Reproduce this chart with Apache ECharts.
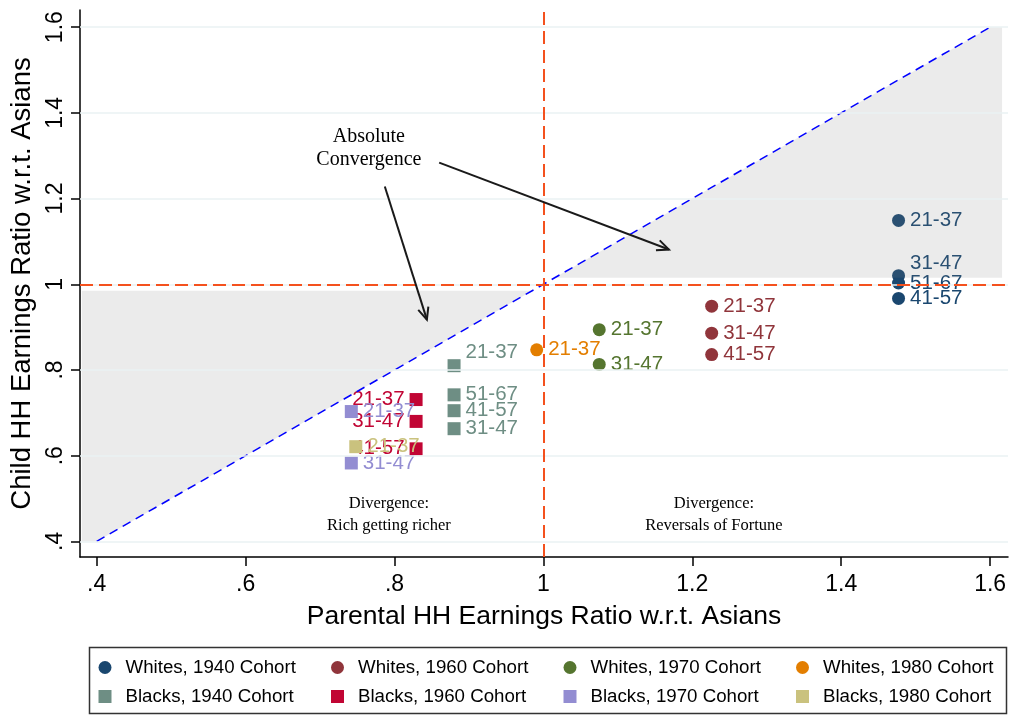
<!DOCTYPE html>
<html><head><meta charset="utf-8">
<script src="https://cdn.jsdelivr.net/npm/echarts@6/dist/echarts.min.js"></script>
<style>html,body{margin:0;padding:0;background:#fff}#chart{width:1015px;height:715px}</style>
</head><body><div id="chart"></div>
<script>
// ---- tick values ----
const xTicks = [0.4, 0.6, 0.8, 1.0, 1.2, 1.4, 1.6];
const yTicks = [0.4, 0.6, 0.8, 1.0, 1.2, 1.4, 1.6];

// ---- series names ----
const seriesNames = ['Whites, 1940 Cohort', 'Whites, 1960 Cohort', 'Whites, 1970 Cohort', 'Whites, 1980 Cohort',
                     'Blacks, 1940 Cohort', 'Blacks, 1960 Cohort', 'Blacks, 1970 Cohort', 'Blacks, 1980 Cohort'];

// ---- data: parental ratio (x), child ratio (y), child birth cohort label ----
const w1940X = [1.477, 1.477, 1.477, 1.477];
const w1940Y = [1.149, 1.020, 1.003, 0.967];
const w1940Lab = ['21-37', '31-47', '51-67', '41-57'];

const w1960X = [1.226, 1.226, 1.226];
const w1960Y = [0.949, 0.886, 0.836];
const w1960Lab = ['21-37', '31-47', '41-57'];

const w1970X = [1.075, 1.075];
const w1970Y = [0.894, 0.813];
const w1970Lab = ['21-37', '31-47'];

const w1980X = [0.991];
const w1980Y = [0.847];
const w1980Lab = ['21-37'];

const b1940X = [0.880, 0.880, 0.880, 0.880];
const b1940Y = [0.810, 0.742, 0.705, 0.663];
const b1940Lab = ['21-37', '51-67', '41-57', '31-47'];

const b1960X = [0.829, 0.829, 0.829];
const b1960Y = [0.731, 0.680, 0.616];
const b1960Lab = ['21-37', '31-47', '41-57'];

const b1970X = [0.742, 0.742];
const b1970Y = [0.703, 0.583];
const b1970Lab = ['21-37', '31-47'];

const b1980X = [0.748];
const b1980Y = [0.621];
const b1980Lab = ['21-37'];

// ---- reference regions / annotations (data units) ----
const diagonal = [[0.4, 0.4], [1.6, 1.6]];
const shadeUR = [[1.015, 1.015], [1.6, 1.6], [1.616, 1.6], [1.616, 1.015]];
const shadeLL = [[0.380, 0.985], [0.985, 0.985], [0.4, 0.4], [0.380, 0.4]];
const arrowFrom = [[0.787, 1.228], [0.860, 1.284]];
const arrowTo = [[0.8435, 0.9175], [1.1686, 1.081]];
const noteText = ['Absolute\nConvergence', 'Divergence:\nRich getting richer', 'Divergence:\nReversals of Fortune'];
const notePos = [[0.7656, 1.318], [0.7925, 0.462], [1.229, 0.462]];

// ---- build ----
const groups = [
  [w1940X, w1940Y, w1940Lab], [w1960X, w1960Y, w1960Lab], [w1970X, w1970Y, w1970Lab], [w1980X, w1980Y, w1980Lab],
  [b1940X, b1940Y, b1940Lab], [b1960X, b1960Y, b1960Lab], [b1970X, b1970Y, b1970Lab], [b1980X, b1980Y, b1980Lab]
];
const colors = ['#1a476f', '#90353b', '#55752f', '#e37e00', '#6e8e84', '#c10534', '#938dd2', '#cac27e'];
const SANS = '"Liberation Sans", Arial, Helvetica, sans-serif';
const SERIF = '"Liberation Serif", "Times New Roman", serif';

const fmt = v => (+(+v).toFixed(1)).toString().replace(/^0\./, '.');

const scatterSeries = groups.map((g, i) => {
  const isBlack = i >= 4;
  const data = g[0].map((x, k) => {
    const item = { value: [x, g[1][k], g[2][k]] };
    if (i === 0 && g[2][k] === '31-47') item.label = { offset: [0, -12] };
    if (i === 4 && g[2][k] === '21-37') item.label = { offset: [0, -13] };
    return item;
  });
  return {
    name: seriesNames[i],
    type: 'scatter',
    symbol: isBlack ? 'rect' : 'circle',
    symbolSize: 13,
    z: 2 + i * 0.1,
    itemStyle: { color: colors[i], opacity: 1 },
    label: {
      show: true,
      position: i === 5 ? 'left' : 'right',
      distance: 5,
      formatter: p => p.value[2],
      color: colors[i],
      fontSize: 20.5,
      fontFamily: SANS
    },
    emphasis: { disabled: true },
    data
  };
});

const chart = echarts.init(document.getElementById('chart'));
chart.setOption({
  animation: false,
  backgroundColor: '#ffffff',
  grid: { left: 80, right: 7, top: 10, bottom: 158 },
  xAxis: {
    type: 'value', min: 0.3776, max: 1.624,
    axisLine: { show: true, lineStyle: { color: '#000', width: 1.5 } },
    axisTick: { show: true, customValues: xTicks, length: 9, lineStyle: { color: '#000', width: 1.5 } },
    axisLabel: { customValues: xTicks, formatter: fmt, fontSize: 23, color: '#000', fontFamily: SANS, margin: 16 },
    splitLine: { show: false },
    name: 'Parental HH Earnings Ratio w.r.t. Asians',
    nameLocation: 'middle', nameGap: 46,
    nameTextStyle: { fontSize: 26.5, color: '#000', fontFamily: SANS }
  },
  yAxis: {
    type: 'value', min: 0.3636, max: 1.64,
    axisLine: { show: true, lineStyle: { color: '#000', width: 1.5 } },
    axisTick: { show: true, customValues: yTicks, length: 9, lineStyle: { color: '#000', width: 1.5 } },
    axisLabel: { customValues: yTicks, formatter: fmt, rotate: 90, fontSize: 23, color: '#000', fontFamily: SANS, margin: 13 },
    splitLine: { show: false },
    name: 'Child HH Earnings Ratio w.r.t. Asians',
    nameLocation: 'middle', nameGap: 41,
    nameTextStyle: { fontSize: 27.5, color: '#000', fontFamily: SANS }
  },
  legend: {
    data: seriesNames,
    left: 98.5, top: 658, width: 925, padding: 0,
    itemWidth: 13, itemHeight: 13, itemGap: 10,
    selectedMode: false,
    textStyle: { fontSize: 18.7, color: '#000', fontFamily: SANS, width: 195.5, lineHeight: 18, padding: [0, 0, 0, 9] }
  },
  graphic: [{
    type: 'rect', left: 87, top: 645, shape: { width: 917, height: 66 },
    style: { fill: 'none', stroke: '#333', lineWidth: 1.5 }, silent: true
  }],
  series: [
    {
      type: 'line', data: [], z: 1, silent: true,
      markLine: {
        silent: true, symbol: 'none', label: { show: false }, animation: false,
        lineStyle: { color: '#eaf2f3', width: 1.5, type: 'solid' },
        data: yTicks.map(v => ({ yAxis: v }))
      }
    },
    ...scatterSeries,
    {
      type: 'custom', z: 3.5, silent: true, clip: false,
      data: [0, 1],
      renderItem: (params, api) => {
        const poly = [shadeUR, shadeLL][params.dataIndex];
        return { type: 'polygon', shape: { points: poly.map(p => api.coord(p)) },
                 style: { fill: 'rgba(128,128,128,0.16)' } };
      }
    },
    {
      type: 'line', data: diagonal, z: 4, silent: true, symbol: 'none',
      lineStyle: { color: '#0000ff', width: 1.5, type: [9, 6] },
      markLine: {
        silent: true, symbol: 'none', label: { show: false },
        lineStyle: { color: '#f4511e', width: 2, type: [13, 6] },
        data: [{ yAxis: 1 }, { xAxis: 1 }]
      }
    },
    {
      type: 'custom', z: 5, silent: true, clip: false,
      data: arrowFrom.map((a, i) => i),
      renderItem: (params, api) => {
        const p1 = api.coord(arrowFrom[params.dataIndex]);
        const p2 = api.coord(arrowTo[params.dataIndex]);
        const ang = Math.atan2(p2[1] - p1[1], p2[0] - p1[0]);
        const L = 13, a = 0.42;
        const h1 = [p2[0] - L * Math.cos(ang - a), p2[1] - L * Math.sin(ang - a)];
        const h2 = [p2[0] - L * Math.cos(ang + a), p2[1] - L * Math.sin(ang + a)];
        const st = { stroke: '#1a1a1a', lineWidth: 2, fill: 'none' };
        return { type: 'group', children: [
          { type: 'line', shape: { x1: p1[0], y1: p1[1], x2: p2[0], y2: p2[1] }, style: st },
          { type: 'polyline', shape: { points: [h1, p2, h2] }, style: st }
        ] };
      }
    },
    {
      type: 'custom', z: 5, silent: true, clip: false,
      data: noteText.map((t, i) => i),
      renderItem: (params, api) => {
        const i = params.dataIndex;
        const p = api.coord(notePos[i]);
        return { type: 'text', x: p[0], y: p[1],
                 style: { text: noteText[i], fontSize: i === 0 ? 20 : 16.5, fontFamily: SERIF, fill: '#000',
                          align: 'center', verticalAlign: 'middle', lineHeight: i === 0 ? 23 : 22 } };
      }
    }
  ]
});
</script>
</body></html>
